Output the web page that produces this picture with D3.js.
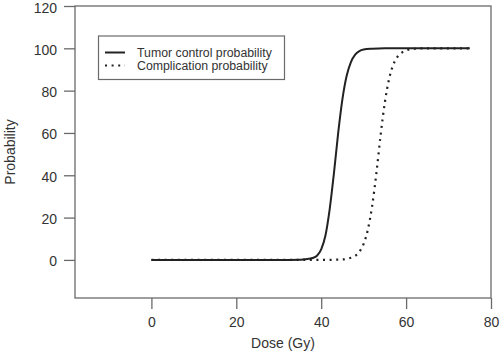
<!DOCTYPE html>
<html><head><meta charset="utf-8">
<script src="https://cdn.jsdelivr.net/npm/d3@7"></script>
<style>body{margin:0;background:#fff}svg{display:block}text{font-family:"Liberation Sans",Arial,sans-serif}</style>
</head><body><svg id="c" width="500" height="357"></svg>
<script>
const xTicks=[0,20,40,60,80];
const yTicks=[0,20,40,60,80,100,120];
const tcpDose=[0,10,20,30,35,36,37,38,39,40,41,42,43,44,45,46,47,48,49,50,52,55,60,65,70,75];
const tcpVal =[0,0,0,0,0.1,0.3,0.5,0.9,2.0,5.0,11.5,24,41,60,76,87,93.5,97,98.7,99.4,99.8,100,100,100,100,100];
const ntcpDose=[0,10,20,30,40,45,46,47,48,49,50,51,52,53,54,55,56,57,58,59,60,62,65,70,75];
const ntcpVal =[0,0,0,0,0,0.2,0.5,1.0,1.9,3.9,7.6,14.4,25.5,41,59,74.5,85.6,92.4,96.1,98,99,99.8,100,100,100];
const legendLabels=["Tumor control probability","Complication probability"];

const svg=d3.select("#c");
const L=75,R=491,T=6,B=298;
const x=d3.scaleLinear().domain([-18,80]).range([L,R]);
const y=d3.scaleLinear().domain([-18,120]).range([B,T]);
const axisCol="#6a6a6a", textCol="#333";

svg.append("rect").attr("x",L).attr("y",T).attr("width",R-L).attr("height",B-T)
  .attr("fill","none").attr("stroke",axisCol).attr("stroke-width",1.3);

const gx=svg.append("g").attr("transform",`translate(0,${B})`)
  .call(d3.axisBottom(x).tickValues(xTicks).tickSize(11).tickSizeOuter(0).tickPadding(8.5));
const gy=svg.append("g").attr("transform",`translate(${L},0)`)
  .call(d3.axisLeft(y).tickValues(yTicks).tickSize(11).tickSizeOuter(0).tickPadding(7));
[gx,gy].forEach(g=>{
  g.select(".domain").remove();
  g.selectAll(".tick line").attr("stroke",axisCol).attr("stroke-width",1.3);
  g.selectAll(".tick text").attr("fill",textCol).style("font-size","14px");
});
gy.selectAll(".tick text").attr("dy","0.43em");

svg.append("text").attr("x",(L+R)/2).attr("y",348).attr("text-anchor","middle")
  .attr("fill",textCol).style("font-size","14px").text("Dose (Gy)");
svg.append("text").attr("transform",`translate(15,${(T+B)/2}) rotate(-90)`).attr("text-anchor","middle")
  .attr("fill",textCol).style("font-size","14px").text("Probability");

const line=d3.line().x(d=>x(d[0])).y(d=>y(d[1])).curve(d3.curveMonotoneX);
svg.append("path").datum(ntcpDose.map((d,i)=>[d,ntcpVal[i]])).attr("d",line)
  .attr("fill","none").attr("stroke","#222").attr("stroke-width",2.2).attr("stroke-dasharray","2,4.6");
svg.append("path").datum(tcpDose.map((d,i)=>[d,tcpVal[i]])).attr("d",line)
  .attr("fill","none").attr("stroke","#222").attr("stroke-width",2);

const lg=svg.append("g");
lg.append("rect").attr("x",98.5).attr("y",36).attr("width",186).attr("height",43.5)
  .attr("fill","#fff").attr("stroke",axisCol).attr("stroke-width",1.2);
legendLabels.forEach((t,i)=>{
  const cy=52.5+i*13;
  lg.append("line").attr("x1",105).attr("x2",125).attr("y1",cy).attr("y2",cy)
    .attr("stroke","#222").attr("stroke-width",2).attr("stroke-dasharray",i?"2,4.6":null);
  lg.append("text").attr("x",137).attr("y",cy+4.3).attr("fill",textCol).style("font-size","12.3px").text(t);
});
</script></body></html>
